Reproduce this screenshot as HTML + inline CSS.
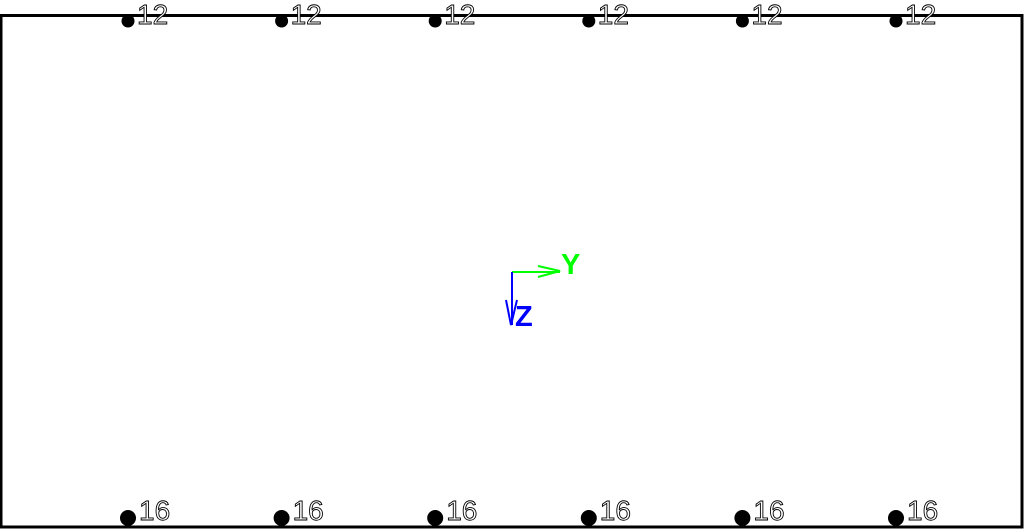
<!DOCTYPE html>
<html><head><meta charset="utf-8"><style>
body{margin:0;background:#fff;width:1024px;height:532px;overflow:hidden}
svg{display:block}
.lbl{font-family:"Liberation Sans",sans-serif;font-size:28px;fill:#fff;stroke:#000;stroke-width:0.9}
</style></head><body>
<svg id="c" width="1024" height="532">
<rect x="1" y="15.5" width="1021" height="511.5" fill="none" stroke="#000" stroke-width="3"/>
<g id="pts"></g>
<g>
<line x1="512" y1="272" x2="560" y2="272" stroke="#0f0" stroke-width="2"/>
<polyline points="538,266 560,271 538,277" fill="none" stroke="#0f0" stroke-width="2"/>
<text x="561" y="274" font-family="Liberation Sans,sans-serif" font-weight="bold" font-size="29" fill="#0f0">Y</text>
<line x1="512" y1="272" x2="512" y2="325" stroke="#00f" stroke-width="2"/>
<polyline points="506,300 511,325 517,300" fill="none" stroke="#00f" stroke-width="2"/>
<text x="515" y="326" font-family="Liberation Sans,sans-serif" font-weight="bold" font-size="29" fill="#00f">Z</text>
</g>
</svg>
<script>
const xs=[0,1,2,3,4,5];
const topLabels=["12","12","12","12","12","12"];
const botLabels=["16","16","16","16","16","16"];
const g=document.getElementById('pts');
const ns='http://www.w3.org/2000/svg';
function px(i){return 128+i*153.6;}
xs.forEach((v,i)=>{
 const x=px(v);
 const c1=document.createElementNS(ns,'circle');
 c1.setAttribute('cx',x);c1.setAttribute('cy',21);c1.setAttribute('r',6.5);
 
 
 g.appendChild(c1);
 const t1=document.createElementNS(ns,'text');
 t1.setAttribute('x',x+9);t1.setAttribute('y',24);t1.setAttribute('class','lbl');
 t1.textContent=topLabels[i];
 
 
 g.appendChild(t1);
 const c2=document.createElementNS(ns,'circle');
 c2.setAttribute('cx',x);c2.setAttribute('cy',518);c2.setAttribute('r',8);
 
 
 g.appendChild(c2);
 const t2=document.createElementNS(ns,'text');
 t2.setAttribute('x',x+11);t2.setAttribute('y',520);t2.setAttribute('class','lbl');
 t2.textContent=botLabels[i];
 
 
 g.appendChild(t2);
});
</script>
</body></html>
